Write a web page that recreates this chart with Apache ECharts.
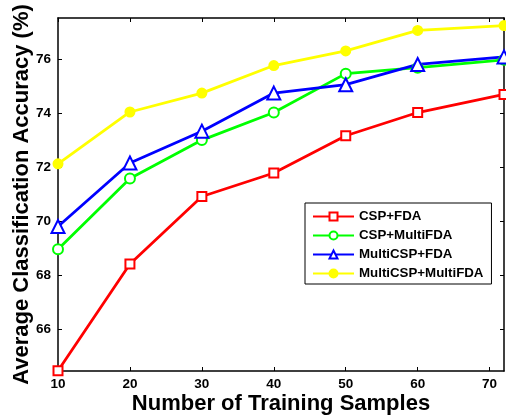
<!DOCTYPE html>
<html>
<head>
<meta charset="utf-8">
<script src="https://cdn.jsdelivr.net/npm/echarts@6/dist/echarts.min.js"></script>
<style>html,body{margin:0;padding:0;background:#fff}#c{width:506px;height:415px}</style>
</head>
<body>
<div id="c"></div>
<script>
const samples = [10, 20, 30, 40, 50, 60, 72];
const cspFda = [64.46, 68.41, 70.91, 71.78, 73.16, 74.02, 74.69];
const cspMultiFda = [68.96, 71.58, 73.0, 74.02, 75.46, 75.68, 75.97];
const multiCspFda = [69.8, 72.15, 73.33, 74.74, 75.05, 75.8, 76.08];
const multiCspMultiFda = [72.12, 74.04, 74.74, 75.76, 76.3, 77.06, 77.24];
const yTicks = [66, 68, 70, 72, 74, 76];
const names = ['CSP+FDA', 'CSP+MultiFDA', 'MultiCSP+FDA', 'MultiCSP+MultiFDA'];

const font = 'Liberation Sans, Arial, Helvetica, sans-serif';
const pair = arr => samples.map((x, i) => [x, arr[i]]);
const axisLine = { show: true, lineStyle: { color: '#000', width: 1.5 } };

function mk(name, data, color, symbol, size) {
  return {
    name, type: 'line', data: pair(data),
    symbol, symbolSize: size, showSymbol: true,
    lineStyle: { color, width: 2.8 },
    itemStyle: { color, borderColor: color, borderWidth: 2 },
    emphasis: { disabled: true },
    animation: false, z: 3
  };
}

const chart = echarts.init(document.getElementById('c'));
chart.setOption({
  animation: false,
  grid: { left: 58, right: 2, top: 18, bottom: 44, containLabel: false, outerBoundsMode: 'none' },
  legend: {
    left: 305, top: 203, orient: 'vertical',
    borderColor: '#000', borderWidth: 1, padding: [7, 8, 4, 7],
    itemWidth: 41, itemHeight: 10, itemGap: 6,
    textStyle: { fontFamily: font, fontWeight: 'bold', fontSize: 13.3, color: '#000' },
    data: names
  },
  xAxis: [{
    type: 'value', min: 10, max: 72, interval: 10,
    name: 'Number of Training Samples', nameLocation: 'middle', nameGap: 22, nameMoveOverlap: false,
    nameTextStyle: { fontFamily: font, fontWeight: 'bold', fontSize: 22, color: '#000' },
    axisLine, splitLine: { show: false },
    axisTick: { inside: true, length: 4, lineStyle: { color: '#000' } },
    axisLabel: { fontFamily: font, fontWeight: 'bold', fontSize: 13.5, color: '#000', margin: 6,
      showMaxLabel: false }
  }, {
    type: 'value', position: 'top', min: 10, max: 72, interval: 10,
    axisLine, splitLine: { show: false },
    axisTick: { inside: true, length: 4, lineStyle: { color: '#000' } },
    axisLabel: { show: false }
  }],
  yAxis: [{
    type: 'value', min: 64.45, max: 77.52,
    name: 'Average Classification Accuracy (%)', nameLocation: 'middle', nameGap: 25, nameMoveOverlap: false,
    nameTextStyle: { fontFamily: font, fontWeight: 'bold', fontSize: 22, color: '#000' },
    axisLine, splitLine: { show: false },
    axisTick: { inside: true, length: 4, customValues: yTicks, lineStyle: { color: '#000' } },
    axisLabel: { fontFamily: font, fontWeight: 'bold', fontSize: 13.5, color: '#000', margin: 7,
      customValues: yTicks }
  }, {
    type: 'value', position: 'right', min: 64.45, max: 77.52,
    axisLine, splitLine: { show: false },
    axisTick: { inside: true, length: 4, customValues: yTicks, lineStyle: { color: '#000' } },
    axisLabel: { show: false }
  }],
  series: [
    mk(names[0], cspFda, '#ff0000', 'emptyRect', 9),
    mk(names[1], cspMultiFda, '#00ff00', 'emptyCircle', 10),
    mk(names[2], multiCspFda, '#0000ff', 'emptyTriangle', 13),
    mk(names[3], multiCspMultiFda, '#ffff00', 'circle', 9)
  ]
});
</script>
</body>
</html>
